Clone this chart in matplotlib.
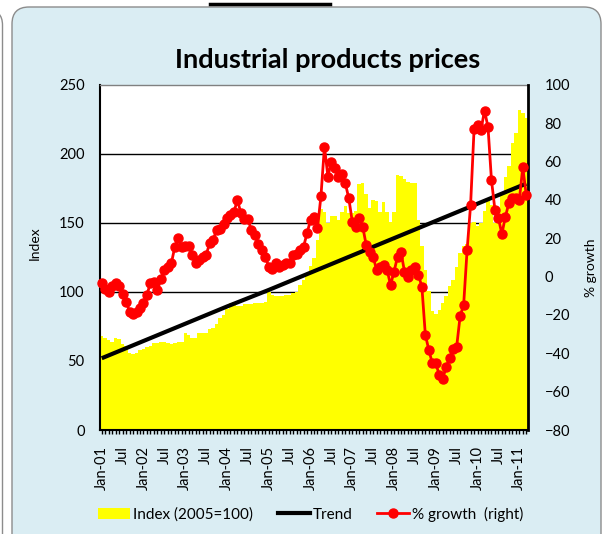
import numpy as np
import matplotlib
matplotlib.use('Agg')
import matplotlib.pyplot as plt
from matplotlib.patches import FancyBboxPatch, Patch
from matplotlib.lines import Line2D
from matplotlib.ticker import MultipleLocator

plt.rcParams['font.family'] = ['Lato', 'DejaVu Sans']

# monthly values, Jan-01 .. Mar-11
index_vals = [68, 67, 65, 64, 66.5, 66, 62, 61, 56, 55, 56, 58,
              59, 60, 61, 63, 63, 64, 64, 63, 62, 63, 64, 64,
              70, 69, 67, 67, 70, 70, 70, 73, 74, 77, 81, 83,
              88, 92, 93, 90, 90, 91, 91, 91, 92, 92, 92, 93,
              100, 98, 97, 97, 97, 98, 98, 99, 100, 105, 109, 113,
              119, 125, 138, 160, 158, 150, 155, 155, 152, 158, 162, 157,
              157, 159, 178, 179, 171, 161, 167, 166, 158, 165, 158, 151,
              158, 185, 184, 182, 180, 179, 179, 152, 133, 116, 101, 86,
              84, 87, 92, 97, 104, 109, 118, 128, 133, 135, 150, 151,
              148, 150, 159, 167, 163, 150, 155, 172, 183, 191, 208, 215,
              232, 230, 226]

growth_vals = [-3.4, -6.6, -7.8, -4.9, -3.1, -4.9, -9.2, -13, -18.3, -19.5, -18.3, -16.5,
               -13.6, -9.5, -3.1, -2.6, -6.9, -1.4, 3.5, 4.9, 7, 15.5, 20, 15.5,
               16.2, 16, 11.3, 7.3, 8.7, 10.4, 11.3, 17.4, 19.1, 24.4, 24.9, 27.5,
               30.4, 32.2, 33.9, 40, 33, 29.9, 30, 24.4, 21.8, 17, 13.9, 10.4,
               5.2, 4, 7, 5.2, 6, 7.3, 7, 11.3, 12, 13.9, 15.7, 22.6,
               29.6, 31.3, 25.2, 42.1, 67.8, 52.2, 60, 56.5, 52.2, 53.4, 48.7, 40.9,
               28.7, 26.1, 30.4, 26.1, 16.5, 13, 10.4, 3.5, 5.2, 6.1, 3.5, -4.3,
               2.6, 10.4, 13, 2.6, 0, 3.5, 5.2, 0.9, -5.2, -30.4, -38.2, -45.2,
               -45.2, -51.3, -53.4, -46.9, -42.6, -37.9, -36.5, -20.5, -14.8, 13.9, 37.4, 76.9,
               79.1, 76.7, 86.6, 78.2, 50.4, 34.8, 30.4, 22.3, 31.3, 38.3, 40.9, 41.3,
               40, 57, 42.6]

# trend read at each January (month number from Jan-01) plus the last month
trend_month = [0, 12, 24, 36, 48, 60, 72, 84, 96, 108, 120, 122]
trend_vals = [52, 64.5, 77, 89.5, 101.5, 114, 126.5, 139, 151.5, 164, 176.5, 178.5]

tick_labels = ['Jan-01', 'Jul', 'Jan-02', 'Jul', 'Jan-03', 'Jul', 'Jan-04', 'Jul',
               'Jan-05', 'Jul', 'Jan-06', 'Jul', 'Jan-07', 'Jul', 'Jan-08', 'Jul',
               'Jan-09', 'Jul', 'Jan-10', 'Jul', 'Jan-11']

months = np.arange(len(index_vals))

W, H = 603, 534
fig = plt.figure(figsize=(W / 100, H / 100), dpi=100)
fig.patch.set_facecolor('white')

# neighbouring panel edge and the chart panel (behind the axes)
fig.add_artist(FancyBboxPatch((-3.0, -0.3), 3.025, 5.54, boxstyle='round,pad=0,rounding_size=0.15',
                              transform=fig.dpi_scale_trans, facecolor='white',
                              edgecolor='#8c8c8c', lw=1, zorder=-10))
fig.add_artist(FancyBboxPatch((0.12, -0.2), 5.89, 5.47, boxstyle='round,pad=0,rounding_size=0.17',
                              transform=fig.dpi_scale_trans, facecolor='#DAEDF3',
                              edgecolor='#8c8c8c', lw=1, zorder=-10))
fig.add_artist(Line2D([210 / W, 330 / W], [1 - 4 / H, 1 - 4 / H], color='black', lw=2.5))

ax = fig.add_axes([100 / W, 1 - 430 / H, 428 / W, 345 / H])
ax.set_facecolor('white')
ax.bar(months, index_vals, width=1.0, color='#FFFF00', edgecolor='none', zorder=1)
ax.plot(trend_month, trend_vals, color='black', lw=3, zorder=3, solid_capstyle='butt')

ax.set_xlim(-0.5, len(months) - 0.5)
ax.set_ylim(0, 250)
ax.set_yticks(np.arange(0, 251, 50))
ax.set_xticks(months[::6])
ax.set_xticklabels(tick_labels, rotation=90)
ax.xaxis.set_minor_locator(MultipleLocator(1))
ax.tick_params(axis='x', which='both', direction='out', length=3, width=1, pad=8.5,
               labelsize=10.5, color='black')
ax.tick_params(axis='y', length=0, pad=11, labelsize=10.5)

ax.set_axisbelow(True)
ax.grid(axis='y', color='black', lw=1)
ax.get_ygridlines()[-1].set_visible(False)

for side in ['left', 'bottom']:
    ax.spines[side].set_color('black')
    ax.spines[side].set_linewidth(1.5)
ax.spines['top'].set_color('#808080')
ax.spines['top'].set_linewidth(1)
ax.spines['right'].set_visible(False)

ax2 = ax.twinx()
ax2.plot(months, growth_vals, color='#FF0000', lw=2, marker='o', ms=6.5, zorder=4,
         clip_on=False)
ax2.set_ylim(-80, 100)
ax2.set_yticks(np.arange(-80, 101, 20))
ax2.tick_params(axis='y', length=0, pad=12, labelsize=10.5)
for side in ['left', 'bottom', 'top']:
    ax2.spines[side].set_visible(False)
ax2.spines['right'].set_color('black')
ax2.spines['right'].set_linewidth(2)

fig.text(328 / W, 1 - 60 / H, 'Industrial products prices', ha='center', va='center',
         fontsize=19.5, fontweight='bold')
fig.text(35 / W, 1 - 243 / H, 'Index', rotation=90, ha='center', va='center', fontsize=10)
fig.text(591 / W, 1 - 268 / H, '% growth', rotation=90, ha='center', va='center', fontsize=10)

handles = [Patch(facecolor='#FFFF00', edgecolor='none'),
           Line2D([], [], color='black', lw=3),
           Line2D([], [], color='#FF0000', lw=2, marker='o', ms=6.5)]
labels = ['Index (2005=100)', 'Trend', '% growth  (right)']
fig.legend(handles, labels, loc='center left', bbox_to_anchor=(98 / W, 1 - 514 / H),
           ncol=3, frameon=False, fontsize=11, handlelength=2.1, handletextpad=0.2,
           columnspacing=1.6, borderpad=0, borderaxespad=0)

fig.savefig('out.png', dpi=100)
